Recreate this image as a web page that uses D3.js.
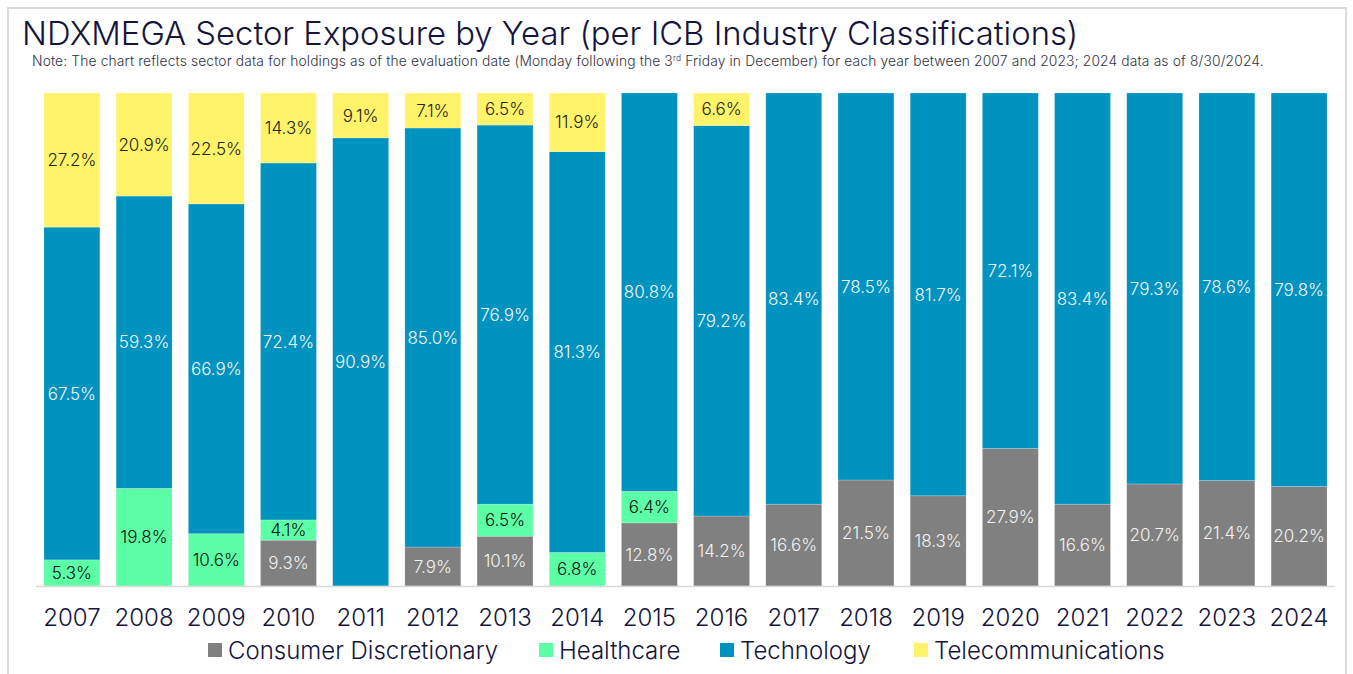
<!DOCTYPE html>
<html>
<head>
<meta charset="utf-8">
<script src="https://cdn.jsdelivr.net/npm/d3@7"></script>
<style>
  html, body { margin: 0; padding: 0; background: #fff; }
  svg { display: block; }
</style>
</head>
<body>
<div id="chart"></div>
<script>
// Data
const years = ['2007', '2008', '2009', '2010', '2011', '2012', '2013', '2014', '2015',
               '2016', '2017', '2018', '2019', '2020', '2021', '2022', '2023', '2024'];
const consumerDiscretionary = [0, 0, 0, 9.3, 0, 7.9, 10.1, 0, 12.8, 14.2, 16.6, 21.5, 18.3, 27.9, 16.6, 20.7, 21.4, 20.2];
const healthcare = [5.3, 19.8, 10.6, 4.1, 0, 0, 6.5, 6.8, 6.4, 0, 0, 0, 0, 0, 0, 0, 0, 0];
const technology = [67.5, 59.3, 66.9, 72.4, 90.9, 85.0, 76.9, 81.3, 80.8, 79.2, 83.4, 78.5, 81.7, 72.1, 83.4, 79.3, 78.6, 79.8];
const telecommunications = [27.2, 20.9, 22.5, 14.3, 9.1, 7.1, 6.5, 11.9, 0, 6.6, 0, 0, 0, 0, 0, 0, 0, 0];

const seriesNames = ['Consumer Discretionary', 'Healthcare', 'Technology', 'Telecommunications'];
const seriesValues = [consumerDiscretionary, healthcare, technology, telecommunications];
const seriesColors = ['#808080', '#5cfea6', '#0093bf', '#fff36a'];
const labelColors = ['#f2f2f2', '#111111', '#f5f5f5', '#222222'];

const width = 1353, height = 674;
const textColor = '#14143c';
const font = 'Inter, "Noto Sans", sans-serif';

const svg = d3.select('#chart')
    .append('svg')
    .attr('width', width)
    .attr('height', height);

// frame
svg.append('rect')
    .attr('x', 8).attr('y', 8)
    .attr('width', 1338).attr('height', 680)
    .style('fill', '#fff')
    .style('stroke', '#dcdcdc')
    .style('stroke-width', 2);

// title + note
svg.append('text')
    .attr('x', 22).attr('y', 45)
    .style('font-family', font)
    .style('font-size', '32.8px')
    .style('font-weight', 300)
    .style('fill', textColor)
    .text('NDXMEGA Sector Exposure by Year (per ICB Industry Classifications)');

const note = svg.append('text')
    .attr('x', 32).attr('y', 66)
    .style('font-family', font)
    .style('font-size', '13.8px')
    .style('font-weight', 300)
    .style('letter-spacing', '0.15px')
    .style('fill', '#333344');
note.append('tspan').text('Note: The chart reflects sector data for holdings as of the evaluation date (Monday following the 3');
note.append('tspan').attr('dy', -5).style('font-size', '8.5px').text('rd');
note.append('tspan').attr('dy', 5).text(' Friday in December) for each year between 2007 and 2023; 2024 data as of 8/30/2024.');

// scales
const x = d3.scaleBand()
    .domain(years)
    .range([36, 1335])
    .paddingInner(0.225)
    .paddingOuter(0.11);

const y = d3.scaleLinear()
    .domain([0, 100])
    .range([586, 93]);

const table = years.map((yr, i) => {
    const row = { year: yr };
    seriesNames.forEach((s, k) => row[s] = seriesValues[k][i]);
    return row;
});

const stacked = d3.stack().keys(seriesNames)(table);

const layers = svg.selectAll('.layer')
    .data(stacked)
    .enter()
    .append('g')
    .attr('class', 'layer')
    .style('fill', (d, k) => seriesColors[k]);

layers.selectAll('rect')
    .data(d => d.filter(p => p[1] - p[0] > 0))
    .enter()
    .append('rect')
    .attr('x', d => x(d.data.year))
    .attr('width', x.bandwidth())
    .attr('y', d => y(Math.min(d[1], 100)))
    .attr('height', d => y(d[0]) - y(Math.min(d[1], 100)))
    .style('stroke', 'rgba(255,255,255,0.35)')
    .style('stroke-width', 0.6);

// value labels
stacked.forEach((layer, k) => {
    svg.selectAll('.lbl' + k)
        .data(layer.filter(p => p[1] - p[0] > 0))
        .enter()
        .append('text')
        .attr('x', d => x(d.data.year) + x.bandwidth() / 2)
        .attr('y', d => (y(d[0]) + y(Math.min(d[1], 100))) / 2)
        .attr('dy', '0.36em')
        .attr('text-anchor', 'middle')
        .style('font-family', font)
        .style('font-size', '17px')
        .style('font-weight', 300)
        .style('fill', labelColors[k])
        .text(d => (d[1] - d[0]).toFixed(1) + '%');
});

// baseline
svg.append('line')
    .attr('x1', 36).attr('x2', 1335)
    .attr('y1', 586.5).attr('y2', 586.5)
    .style('stroke', '#d9d9d9')
    .style('stroke-width', 1.5);

// x axis labels
svg.selectAll('.yearLabel')
    .data(years)
    .enter()
    .append('text')
    .attr('x', d => x(d) + x.bandwidth() / 2)
    .attr('y', 626)
    .attr('text-anchor', 'middle')
    .style('font-family', font)
    .style('font-size', '24px')
    .style('font-weight', 300)
    .style('fill', textColor)
    .text(d => d);

// legend
const legendX = [208, 539, 720, 914];
const legend = svg.selectAll('.legendItem')
    .data(seriesNames)
    .enter()
    .append('g')
    .attr('transform', (d, i) => `translate(${legendX[i]},650)`);

legend.append('rect')
    .attr('x', 0).attr('y', -7)
    .attr('width', 14).attr('height', 14)
    .style('fill', (d, i) => seriesColors[i]);

legend.append('text')
    .attr('x', 20).attr('y', 0)
    .attr('dy', '0.36em')
    .style('font-family', font)
    .style('font-size', '24px')
    .style('font-weight', 300)
    .style('fill', textColor)
    .text(d => d);
</script>
</body>
</html>
